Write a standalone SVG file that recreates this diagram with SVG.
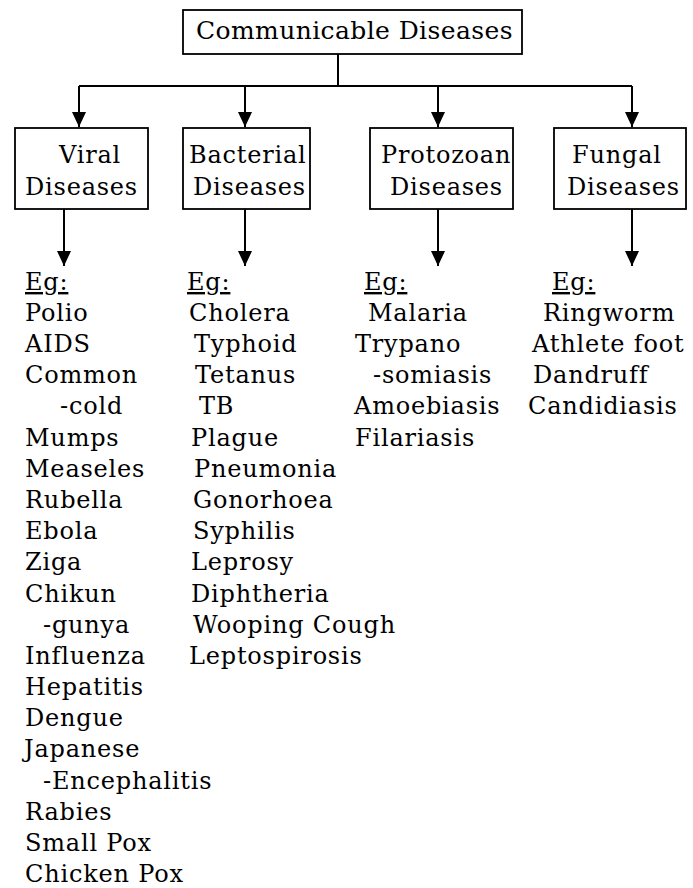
<svg xmlns="http://www.w3.org/2000/svg" width="693" height="888" viewBox="0 0 693 888">
<defs>
<marker id="ah" markerWidth="16" markerHeight="14" refX="15" refY="7" orient="auto" markerUnits="userSpaceOnUse">
<path d="M0,0 L15,7 L0,14 Z" fill="#000"/>
</marker>
</defs>
<style>
text{font-family:"DejaVu Serif","Liberation Serif",serif;font-size:24px;letter-spacing:0.8px;fill:#000}
.box{fill:#fff;stroke:#000;stroke-width:1.8}
.ln{stroke:#000;stroke-width:2;fill:none}
.u{text-decoration:underline}
</style>
<rect width="693" height="888" fill="#fff"/>
<g id="connectors">
<path class="ln" d="M338,54 V86"/>
<path class="ln" d="M79,86 H632"/>
<path class="ln" d="M79,86 V127" marker-end="url(#ah)"/>
<path class="ln" d="M245,86 V127" marker-end="url(#ah)"/>
<path class="ln" d="M438,86 V127" marker-end="url(#ah)"/>
<path class="ln" d="M632,86 V127" marker-end="url(#ah)"/>
<path class="ln" d="M64,209 V266" marker-end="url(#ah)"/>
<path class="ln" d="M245,209 V266" marker-end="url(#ah)"/>
<path class="ln" d="M438,209 V266" marker-end="url(#ah)"/>
<path class="ln" d="M632,209 V266" marker-end="url(#ah)"/>
</g>
<g id="root">
<rect class="box" x="183" y="10" width="339" height="44"/>
<text x="196" y="39" style="font-size:25px;letter-spacing:0.4px">Communicable Diseases</text>
</g>
<g id="viral">
<rect class="box" x="15" y="128" width="133" height="81"/>
<text x="59" y="163">Viral</text>
<text x="25" y="195">Diseases</text>
</g>
<g id="bacterial">
<rect class="box" x="183" y="128" width="127" height="81"/>
<text x="189" y="163">Bacterial</text>
<text x="193" y="195">Diseases</text>
</g>
<g id="protozoan">
<rect class="box" x="370" y="128" width="143" height="81"/>
<text x="381" y="163">Protozoan</text>
<text x="390" y="195">Diseases</text>
</g>
<g id="fungal">
<rect class="box" x="554" y="128" width="132" height="81"/>
<text x="572" y="163">Fungal</text>
<text x="567" y="195">Diseases</text>
</g>
<g id="viral-list">
<text x="25" y="290" class="u">Eg:</text>
<text x="25" y="321">Polio</text>
<text x="25" y="352">AIDS</text>
<text x="25" y="383">Common</text>
<text x="60" y="414">-cold</text>
<text x="25" y="446">Mumps</text>
<text x="25" y="477">Measeles</text>
<text x="25" y="508">Rubella</text>
<text x="25" y="539">Ebola</text>
<text x="25" y="570">Ziga</text>
<text x="25" y="602">Chikun</text>
<text x="43" y="633">-gunya</text>
<text x="25" y="664">Influenza</text>
<text x="25" y="695">Hepatitis</text>
<text x="25" y="726">Dengue</text>
<text x="24" y="757">Japanese</text>
<text x="43" y="789">-Encephalitis</text>
<text x="25" y="820">Rabies</text>
<text x="25" y="851">Small Pox</text>
<text x="25" y="882">Chicken Pox</text>
</g>
<g id="bacterial-list">
<text x="187" y="290" class="u">Eg:</text>
<text x="189" y="321">Cholera</text>
<text x="194" y="352">Typhoid</text>
<text x="195" y="383">Tetanus</text>
<text x="199" y="414">TB</text>
<text x="191" y="446">Plague</text>
<text x="194" y="477">Pneumonia</text>
<text x="193" y="508">Gonorhoea</text>
<text x="193" y="539">Syphilis</text>
<text x="191" y="570">Leprosy</text>
<text x="191" y="602">Diphtheria</text>
<text x="193" y="633">Wooping Cough</text>
<text x="189" y="664">Leptospirosis</text>
</g>
<g id="protozoan-list">
<text x="364" y="290" class="u">Eg:</text>
<text x="368" y="321">Malaria</text>
<text x="355" y="352">Trypano</text>
<text x="373" y="383">-somiasis</text>
<text x="354" y="414">Amoebiasis</text>
<text x="355" y="446">Filariasis</text>
</g>
<g id="fungal-list">
<text x="552" y="290" class="u">Eg:</text>
<text x="543" y="321">Ringworm</text>
<text x="532" y="352">Athlete foot</text>
<text x="533" y="383">Dandruff</text>
<text x="528" y="414">Candidiasis</text>
</g>
</svg>
